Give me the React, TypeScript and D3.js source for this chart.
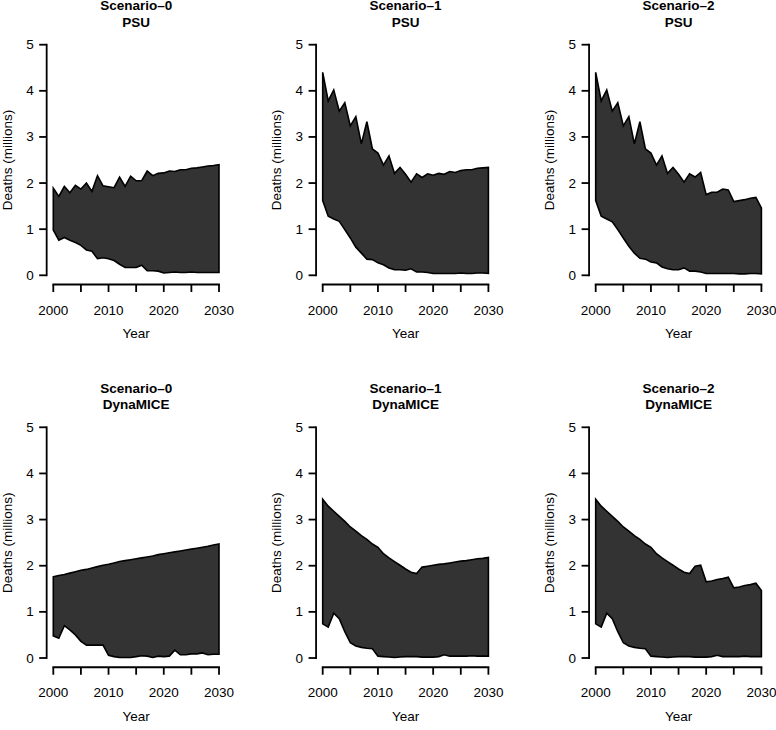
import React from "react";
import * as d3 from "d3";

const years: number[] = d3.range(2000, 2031);

const scenarioTitles = ["Scenario\u20130", "Scenario\u20131", "Scenario\u20132"];
const modelTitles = ["PSU", "DynaMICE"];
const yTicks = [0, 1, 2, 3, 4, 5];
const xTicks = [2000, 2005, 2010, 2015, 2020, 2025, 2030];
const xTickLabels = [2000, 2010, 2020, 2030];

const psuS0Upper = [1.89, 1.71, 1.93, 1.79, 1.95, 1.87, 2.0, 1.82, 2.16, 1.94, 1.92, 1.9, 2.13, 1.93, 2.15, 2.05, 2.05, 2.26, 2.16, 2.21, 2.22, 2.26, 2.25, 2.29, 2.29, 2.32, 2.33, 2.35, 2.37, 2.38, 2.4];
const psuS0Lower = [0.98, 0.76, 0.82, 0.76, 0.71, 0.65, 0.55, 0.52, 0.36, 0.38, 0.36, 0.32, 0.24, 0.17, 0.17, 0.17, 0.22, 0.1, 0.1, 0.09, 0.05, 0.06, 0.07, 0.06, 0.06, 0.07, 0.06, 0.06, 0.06, 0.06, 0.06];

const psuS1Upper = [4.4, 3.78, 4.02, 3.56, 3.74, 3.24, 3.44, 2.85, 3.33, 2.74, 2.65, 2.39, 2.59, 2.21, 2.34, 2.19, 2.02, 2.2, 2.12, 2.2, 2.17, 2.21, 2.19, 2.25, 2.23, 2.27, 2.29, 2.29, 2.32, 2.33, 2.34];
const psuS1Lower = [1.62, 1.28, 1.22, 1.17, 0.99, 0.81, 0.61, 0.48, 0.35, 0.34, 0.27, 0.23, 0.16, 0.12, 0.12, 0.11, 0.14, 0.07, 0.07, 0.06, 0.04, 0.04, 0.04, 0.04, 0.04, 0.05, 0.04, 0.04, 0.05, 0.05, 0.04];

const psuS2Upper = [4.4, 3.78, 4.02, 3.56, 3.74, 3.24, 3.44, 2.85, 3.33, 2.74, 2.65, 2.39, 2.59, 2.21, 2.34, 2.19, 2.02, 2.2, 2.13, 2.23, 1.75, 1.8, 1.8, 1.87, 1.85, 1.6, 1.62, 1.64, 1.67, 1.69, 1.46];
const psuS2Lower = [1.62, 1.28, 1.22, 1.16, 0.99, 0.81, 0.63, 0.48, 0.37, 0.35, 0.29, 0.27, 0.18, 0.14, 0.12, 0.12, 0.16, 0.09, 0.09, 0.07, 0.04, 0.04, 0.04, 0.04, 0.04, 0.04, 0.03, 0.03, 0.04, 0.04, 0.03];

const dynS0Upper = [1.76, 1.79, 1.81, 1.84, 1.87, 1.9, 1.92, 1.95, 1.98, 2.01, 2.03, 2.06, 2.09, 2.11, 2.13, 2.15, 2.17, 2.19, 2.21, 2.24, 2.26, 2.28, 2.3, 2.32, 2.34, 2.36, 2.38, 2.4, 2.42, 2.45, 2.47];
const dynS0Lower = [0.48, 0.43, 0.7, 0.61, 0.5, 0.36, 0.28, 0.28, 0.28, 0.28, 0.06, 0.03, 0.01, 0.01, 0.01, 0.03, 0.05, 0.04, 0.01, 0.04, 0.03, 0.04, 0.17, 0.07, 0.07, 0.09, 0.09, 0.11, 0.07, 0.08, 0.08];

const dynS1Upper = [3.44, 3.29, 3.18, 3.07, 2.96, 2.84, 2.75, 2.65, 2.57, 2.47, 2.4, 2.26, 2.17, 2.09, 2.01, 1.93, 1.86, 1.83, 1.97, 1.99, 2.01, 2.03, 2.04, 2.06, 2.08, 2.1, 2.11, 2.13, 2.15, 2.16, 2.18];
const dynS1Lower = [0.74, 0.67, 0.97, 0.85, 0.57, 0.33, 0.26, 0.23, 0.21, 0.2, 0.04, 0.03, 0.02, 0.01, 0.02, 0.03, 0.03, 0.03, 0.02, 0.02, 0.02, 0.03, 0.07, 0.04, 0.04, 0.04, 0.04, 0.05, 0.04, 0.04, 0.04];

const dynS2Upper = [3.44, 3.29, 3.18, 3.07, 2.96, 2.84, 2.75, 2.65, 2.57, 2.47, 2.4, 2.26, 2.17, 2.09, 2.01, 1.93, 1.86, 1.83, 1.99, 2.01, 1.65, 1.67, 1.7, 1.72, 1.75, 1.52, 1.54, 1.57, 1.59, 1.62, 1.46];
const dynS2Lower = [0.74, 0.67, 0.97, 0.85, 0.57, 0.33, 0.26, 0.23, 0.21, 0.2, 0.04, 0.03, 0.02, 0.01, 0.02, 0.03, 0.03, 0.03, 0.02, 0.02, 0.02, 0.03, 0.06, 0.03, 0.03, 0.03, 0.03, 0.04, 0.03, 0.03, 0.03];

const panelSeries = [
  [
    [psuS0Upper, psuS0Lower],
    [psuS1Upper, psuS1Lower],
    [psuS2Upper, psuS2Lower],
  ],
  [
    [dynS0Upper, dynS0Lower],
    [dynS1Upper, dynS1Lower],
    [dynS2Upper, dynS2Lower],
  ],
];

// layout
const colX0 = [53.3, 322.7, 595.7]; // pixel of year 2000
const plotW = 165.7; // 2000 -> 2030
const rowY5 = [44.7, 427.3]; // pixel of value 5
const rowY0 = [275.3, 658]; // pixel of value 0
const FONT = "'Liberation Sans', Arial, Helvetica, sans-serif";
const FS = 13.5;

function Panel({ row, col }: { row: number; col: number }) {
  const x = d3.scaleLinear().domain([2000, 2030]).range([colX0[col], colX0[col] + plotW]);
  const y = d3.scaleLinear().domain([0, 5]).range([rowY0[row], rowY5[row]]);
  const [upper, lower] = panelSeries[row][col];
  const data = years.map((yr, i) => ({ yr, u: upper[i], l: lower[i] }));
  const area = d3
    .area<{ yr: number; u: number; l: number }>()
    .x((d) => x(d.yr))
    .y0((d) => y(d.l))
    .y1((d) => y(d.u));
  const padX = 0.04 * 30;
  const padY = 0.04 * 5;
  const left = x(2000 - padX);
  const right = x(2030 + padX);
  const bottom = y(0 - padY);
  const cx = (left + right) / 2;
  const tick = 7.5;
  return (
    <g>
      <text x={cx} y={rowY5[row] - 39} textAnchor="middle" dominantBaseline="central" fontFamily={FONT} fontSize={FS} fontWeight="bold">
        {scenarioTitles[col]}
      </text>
      <text x={cx} y={rowY5[row] - 22.4} textAnchor="middle" dominantBaseline="central" fontFamily={FONT} fontSize={FS} fontWeight="bold">
        {modelTitles[row]}
      </text>
      <path d={area(data) || ""} fill="#333333" stroke="#000" strokeWidth={1.6} strokeLinejoin="miter" />
      {/* y axis */}
      <line x1={left} x2={left} y1={y(0)} y2={y(5)} stroke="#000" strokeWidth={1.8} strokeLinecap="square" />
      {yTicks.map((t) => (
        <g key={"y" + t}>
          <line x1={left - tick} x2={left} y1={y(t)} y2={y(t)} stroke="#000" strokeWidth={1.8} />
          <text x={left - 13} y={y(t)} textAnchor="end" dominantBaseline="central" fontFamily={FONT} fontSize={FS}>
            {t}
          </text>
        </g>
      ))}
      {/* x axis */}
      <line x1={x(2000)} x2={x(2030)} y1={bottom} y2={bottom} stroke="#000" strokeWidth={1.8} strokeLinecap="square" />
      {xTicks.map((t) => (
        <line key={"x" + t} x1={x(t)} x2={x(t)} y1={bottom} y2={bottom + tick} stroke="#000" strokeWidth={1.8} />
      ))}
      {xTickLabels.map((t) => (
        <text key={"xl" + t} x={x(t)} y={bottom + 25.5} textAnchor="middle" dominantBaseline="central" fontFamily={FONT} fontSize={FS}>
          {t}
        </text>
      ))}
      <text x={cx} y={bottom + 48.8} textAnchor="middle" dominantBaseline="central" fontFamily={FONT} fontSize={FS}>
        Year
      </text>
      <text
        transform={`translate(${left - 39.5},${(y(5 + padY) + bottom) / 2}) rotate(-90)`}
        textAnchor="middle"
        dominantBaseline="central"
        fontFamily={FONT}
        fontSize={FS}
      >
        Deaths (millions)
      </text>
    </g>
  );
}

export default function App() {
  return (
    <svg
      width={776}
      height={730}
      viewBox="0 0 776 730"
      style={{ position: "absolute", left: 0, top: 0, display: "block", background: "#fff" }}
    >
      <rect x={0} y={0} width={776} height={730} fill="#fff" />
      {[0, 1].map((r) => [0, 1, 2].map((c) => <Panel key={r + "-" + c} row={r} col={c} />))}
    </svg>
  );
}
